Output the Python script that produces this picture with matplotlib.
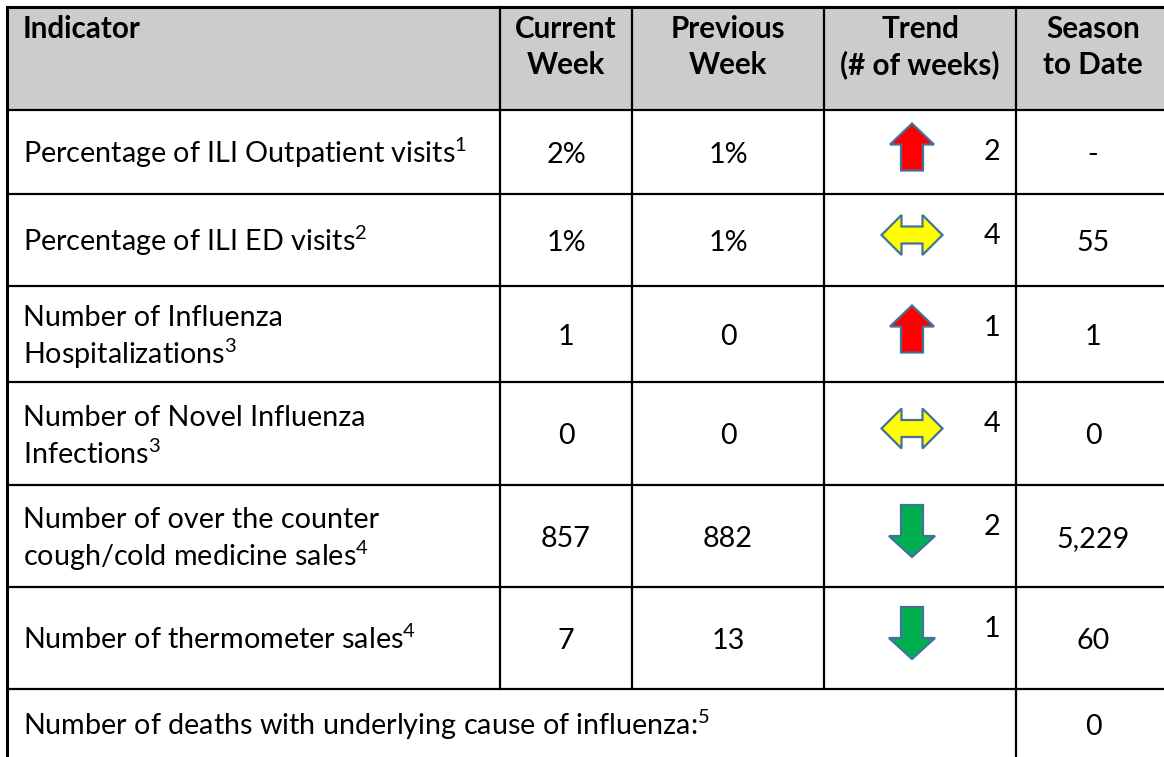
import matplotlib.pyplot as plt
from matplotlib.patches import Polygon, Rectangle

plt.rcParams['font.family'] = ['Lato', 'DejaVu Sans']
plt.rcParams['mathtext.fontset'] = 'custom'
plt.rcParams['mathtext.rm'] = 'Lato'
plt.rcParams['mathtext.it'] = 'Lato:italic'
plt.rcParams['mathtext.bf'] = 'Lato:bold'

# datos de la tabla
headers = ["Indicator", "Current\nWeek", "Previous\nWeek", "Trend\n(# of weeks)", "Season\nto Date"]
indicators = [
    "Percentage of ILI Outpatient visits$^{1}$",
    "Percentage of ILI ED visits$^{2}$",
    "Number of Influenza\nHospitalizations$^{3}$",
    "Number of Novel Influenza\nInfections$^{3}$",
    "Number of over the counter\ncough/cold medicine sales$^{4}$",
    "Number of thermometer sales$^{4}$",
]
current_week = ["2%", "1%", "1", "0", "857", "7"]
previous_week = ["1%", "1%", "0", "0", "882", "13"]
trend_dir = ["up", "flat", "up", "flat", "down", "down"]
trend_weeks = ["2", "4", "1", "4", "2", "1"]
season_to_date = ["-", "55", "1", "0", "5,229", "60"]
deaths_label = "Number of deaths with underlying cause of influenza:$^{5}$"
deaths_season = "0"

# geometria (pixeles)
col_edges = [7, 500, 632, 824, 1016, 1170]
row_edges = [7, 110, 194, 286, 382, 485, 587, 689, 775]
FS = 20.7
FS_HEAD = 21.3
LINE = 38

fig = plt.figure(figsize=(11.64, 7.57), dpi=100)
ax = fig.add_axes([0, 0, 1, 1])
ax.set_xlim(0, 1164)
ax.set_ylim(757, 0)
ax.axis('off')

# fondo del encabezado
ax.add_patch(Rectangle((col_edges[0], row_edges[0]), col_edges[-1] - col_edges[0],
                       row_edges[1] - row_edges[0], facecolor='#cccccc', edgecolor='none'))


def put_lines(x, yc, txt, ha='center', **kw):
    parts = txt.split('\n')
    n = len(parts)
    for i, p in enumerate(parts):
        yb = yc + 11 + (i - (n - 1) / 2) * LINE
        ax.text(x, yb, p, ha=ha, va='baseline', fontsize=FS, color='black', **kw)


def arrow_shape(kind, cx, cy):
    if kind == 'up':
        w, h, sw, hh = 44, 47, 22, 21
        top = cy - h / 2
        return [(cx, top), (cx + w / 2, top + hh), (cx + sw / 2, top + hh),
                (cx + sw / 2, top + h), (cx - sw / 2, top + h), (cx - sw / 2, top + hh),
                (cx - w / 2, top + hh)], '#ff0000'
    if kind == 'down':
        w, h, sw, hh = 46, 52, 22, 21
        top = cy - h / 2
        bot = cy + h / 2
        return [(cx - sw / 2, top), (cx + sw / 2, top), (cx + sw / 2, bot - hh),
                (cx + w / 2, bot - hh), (cx, bot), (cx - w / 2, bot - hh),
                (cx - sw / 2, bot - hh)], '#00b050'
    w, h, sh, hl = 61, 40, 17, 20
    l, r = cx - w / 2, cx + w / 2
    return [(l, cy), (l + hl, cy - h / 2), (l + hl, cy - sh / 2), (r - hl, cy - sh / 2),
            (r - hl, cy - h / 2), (r, cy), (r - hl, cy + h / 2), (r - hl, cy + sh / 2),
            (l + hl, cy + sh / 2), (l + hl, cy + h / 2)], '#ffff00'


# encabezado
for j, hd in enumerate(headers):
    parts = hd.split('\n')
    for i, p in enumerate(parts):
        if j == 0:
            ax.text(col_edges[0] + 16, 38 + i * 36, p, ha='left', va='baseline',
                    fontsize=FS_HEAD, fontweight='bold')
        else:
            ax.text((col_edges[j] + col_edges[j + 1]) / 2, 38 + i * 36, p, ha='center',
                    va='baseline', fontsize=FS_HEAD, fontweight='bold')

# filas
for i in range(len(indicators)):
    top, bot = row_edges[i + 1], row_edges[i + 2]
    yc = (top + bot) / 2
    put_lines(col_edges[0] + 16, yc, indicators[i], ha='left')
    put_lines((col_edges[1] + col_edges[2]) / 2, yc, current_week[i])
    put_lines((col_edges[2] + col_edges[3]) / 2, yc, previous_week[i])
    put_lines((col_edges[4] + col_edges[5]) / 2, yc, season_to_date[i])
    verts, fc = arrow_shape(trend_dir[i], (col_edges[3] + col_edges[4]) / 2 - 8, yc - 5)
    ax.add_patch(Polygon(verts, closed=True, facecolor=fc, edgecolor='#41719c', lw=1.6,
                         joinstyle='miter'))
    ax.text(col_edges[4] - 16, top + 50, trend_weeks[i], ha='right', va='baseline',
            fontsize=FS)

# ultima fila
yc = (row_edges[-2] + row_edges[-1]) / 2
put_lines(col_edges[0] + 16, yc - 8, deaths_label, ha='left')
put_lines((col_edges[4] + col_edges[5]) / 2, yc - 8, deaths_season)

# lineas de la tabla
for k, y in enumerate(row_edges[:-1]):
    ax.plot([col_edges[0], col_edges[-1]], [y, y], color='black',
            lw=2.2 if k == 0 else 1.6, solid_capstyle='butt')
ax.plot([col_edges[0]] * 2, [row_edges[0], row_edges[-1]], color='black', lw=2.2)
for x in col_edges[1:4]:
    ax.plot([x, x], [row_edges[0], row_edges[-2]], color='black', lw=1.6)
ax.plot([col_edges[4]] * 2, [row_edges[0], row_edges[-1]], color='black', lw=1.6)

fig.savefig('out.png', dpi=100)
